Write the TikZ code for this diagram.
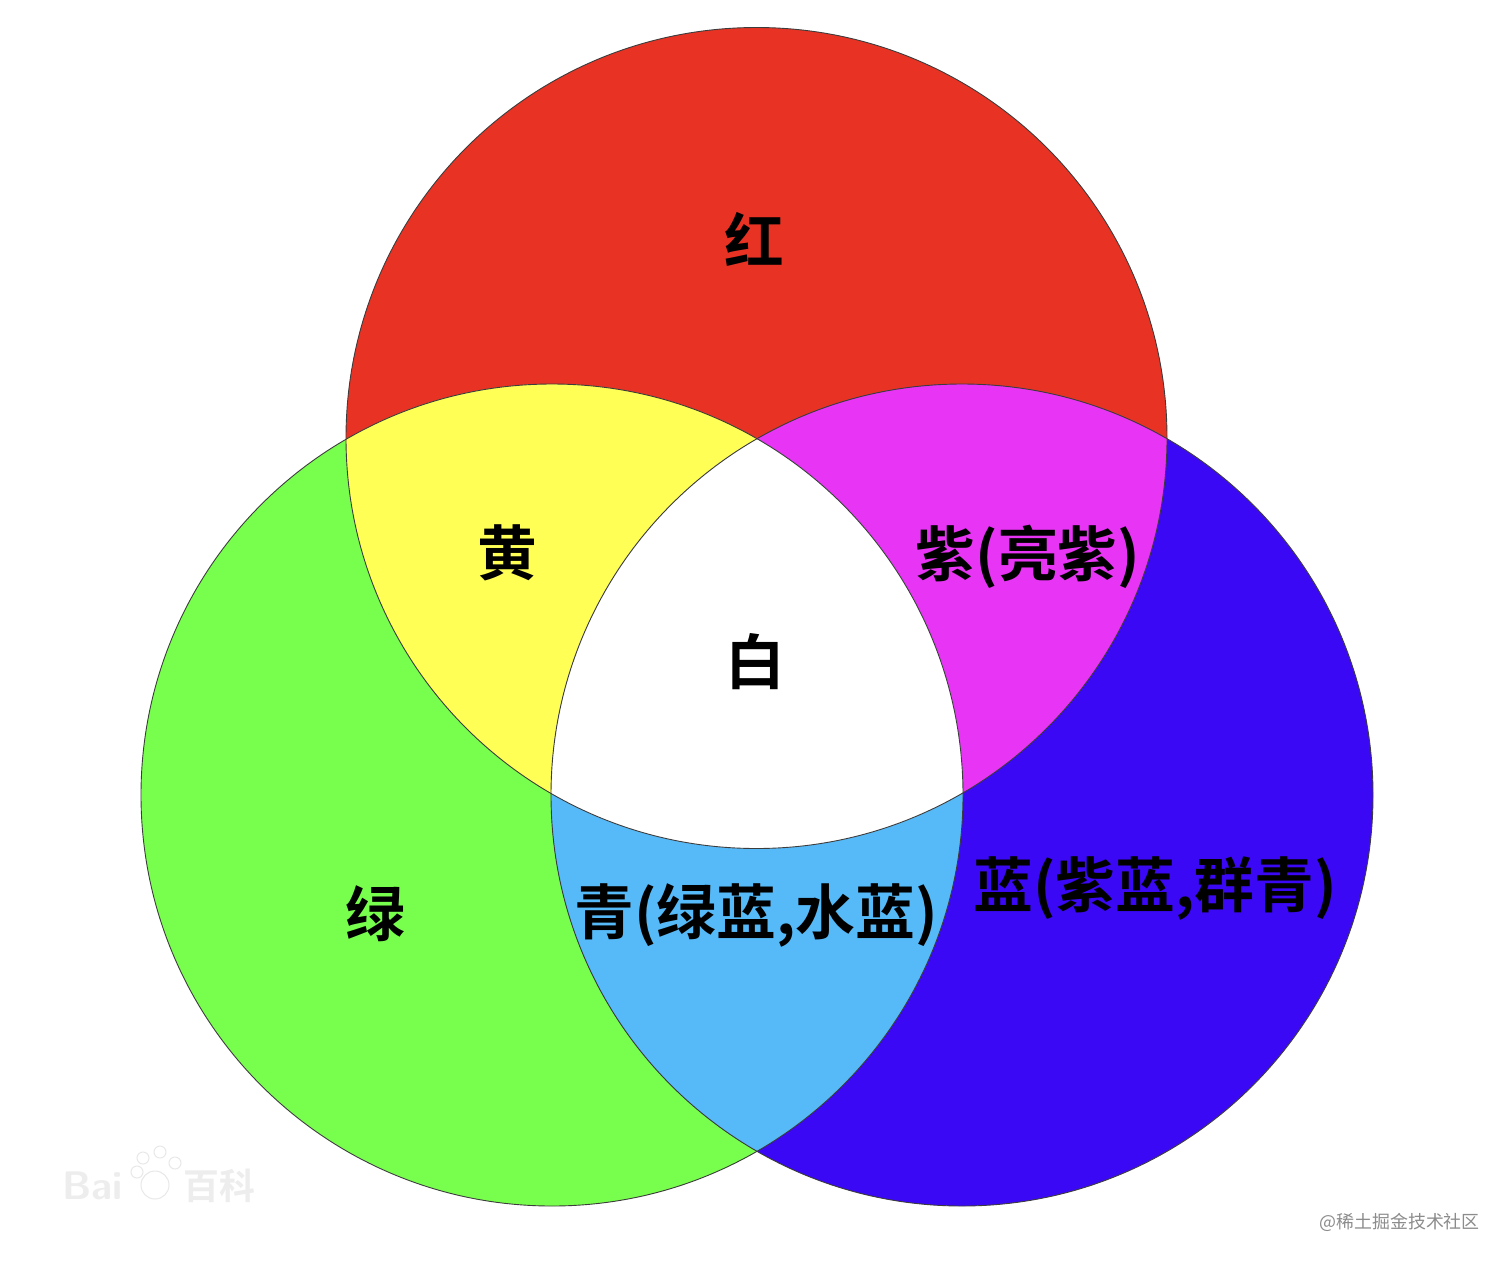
\documentclass[tikz,border=0pt]{standalone}
\usepackage{fontspec}
\setmainfont{Noto Sans CJK SC}
\newfontfamily\cjkbold{Noto Sans CJK SC Bold}
\newfontfamily\cjkreg{Noto Sans CJK SC}
\definecolor{cred}{RGB}{232,51,36}
\definecolor{cgreen}{RGB}{120,255,77}
\definecolor{cblue}{RGB}{58,8,245}
\definecolor{cyellow}{RGB}{255,255,85}
\definecolor{cmagenta}{RGB}{232,53,245}
\definecolor{ccyan}{RGB}{86,186,248}
\definecolor{cedge}{RGB}{60,60,60}
\tikzset{
  lbl/.style={font=\cjkbold\fontsize{60}{60}\selectfont, text=black, inner sep=0pt},
  wm/.style={font=\cjkreg\fontsize{18}{18}\selectfont, text=black!45, inner sep=0pt},
  logo/.style={font=\sffamily\bfseries\fontsize{40}{40}\selectfont, text=black!7, inner sep=0pt},
  rim/.style={draw=cedge, line width=0.9bp}
}
\begin{document}
\begin{tikzpicture}[x=1bp,y=-1bp]
\useasboundingbox (0,0) rectangle (1512,1265);
\fill[white] (0,0) rectangle (1512,1265);
\coordinate (R) at (756.5,438);
\coordinate (G) at (552,795);
\coordinate (B) at (962,795);
\def\rr{410.5}
\def\rg{411}
% base circles
\fill[cred] (R) circle[radius=\rr];
\fill[cgreen] (G) circle[radius=\rg];
\fill[cblue] (B) circle[radius=\rg];
% pairwise overlaps
\begin{scope}
  \clip (R) circle[radius=\rr];
  \fill[cyellow] (G) circle[radius=\rg];
  \fill[cmagenta] (B) circle[radius=\rg];
\end{scope}
\begin{scope}
  \clip (G) circle[radius=\rg];
  \fill[ccyan] (B) circle[radius=\rg];
\end{scope}
% triple overlap
\begin{scope}
  \clip (R) circle[radius=\rr];
  \clip (G) circle[radius=\rg];
  \fill[white] (B) circle[radius=\rg];
\end{scope}
% outlines
\draw[rim] (R) circle[radius=\rr];
\draw[rim] (G) circle[radius=\rg];
\draw[rim] (B) circle[radius=\rg];
% labels
\node[lbl] (lr) at (754,239) {红};
\node[lbl] (ly) at (507,553) {黄};
\node[lbl] (lm) at (1028,557) {紫(亮紫)};
\node[lbl] (lw) at (755,662) {白};
\node[lbl] (lg) at (375,914) {绿};
\node[lbl, xscale=1.0] (lc) at (756,915) {青(绿蓝,水蓝)};
\node[lbl, xscale=1.0] (lb) at (1155,888) {蓝(紫蓝,群青)};
% watermarks
\node[wm, anchor=east] (wm1) at (1480,1222) {@稀土掘金技术社区};
\node[logo, anchor=west] (bai) at (62,1186) {Bai};
\node[font=\cjkbold\fontsize{36}{36}\selectfont, text=black!7, inner sep=0pt, anchor=west] (baike) at (183,1186) {百科};
\draw[black!9, line width=1bp] (155,1185) circle[radius=14];
\foreach \px/\py in {143/1158,160/1152,175/1163,137/1172}{
  \draw[black!9, line width=1bp] (\px,\py) circle[radius=6];
}
\end{tikzpicture}
\end{document}
